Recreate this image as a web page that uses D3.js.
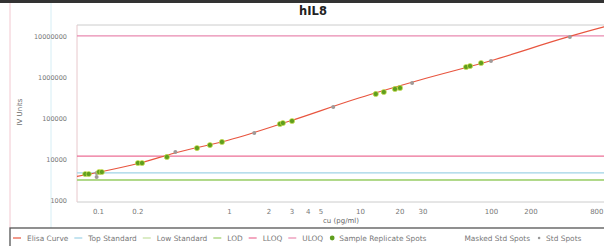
<!DOCTYPE html>
<html>
<head>
<meta charset="utf-8">
<script src="https://cdn.jsdelivr.net/npm/d3@7"></script>
<style>
  html, body { margin: 0; padding: 0; background: #fff; overflow: hidden; }
  svg { display: block; font-family: "DejaVu Sans", Verdana, sans-serif; }
</style>
</head>
<body>
<svg id="chart" width="604" height="246"></svg>
<script>
// Elisa curve (conc, signal)
const curveConc = [0.0692, 0.1036, 0.209, 0.387, 1, 2.92, 9.8, 28.7, 98, 387, 729, 1000];
const curveSignal = [3745, 4820, 7980, 14000, 29000, 84500, 307000, 845000, 2450000, 9460000, 16600000, 21500000];

// sample replicate spots (green)
const sampleConc = [0.080, 0.085, 0.102, 0.107, 0.202, 0.217, 0.336, 0.570, 0.716, 0.884, 2.45, 2.58, 3.03, 13.2, 15.2, 18.5, 20.2, 64.5, 69.2, 84];
const sampleSignal = [4300, 4300, 4820, 4820, 7980, 7980, 11200, 18500, 21900, 26000, 71400, 75500, 84500, 385000, 430000, 510000, 540000, 1750000, 1850000, 2190000];

// standard spots (gray)
const stdConc = [0.0977, 0.0977, 0.39, 1.56, 6.25, 25, 100, 400];
const stdSignal = [4560, 3640, 14800, 43000, 185000, 714000, 2460000, 9460000];

// horizontal reference lines
const refNames = ["Top Standard", "Low Standard", "LOD", "LLOQ", "ULOQ"];
const refValues = [4570, 3150, 3050, 11800, 10000000];
const refColors = ["#9fd3e6", "#c4e0a0", "#9ccf6c", "#ec6f96", "#e98ab0"];

const xTicks = [0.1, 0.2, 1, 2, 3, 4, 5, 10, 20, 30, 100, 200, 800];
const yTicks = [1000, 10000, 100000, 1000000, 10000000];

const legendNames = ["Elisa Curve", "Top Standard", "Low Standard", "LOD", "LLOQ", "ULOQ", "Sample Replicate Spots", "Masked Std Spots", "Std Spots"];
const legendKinds = ["line", "line", "line", "line", "line", "line", "dot", "none", "small"];
const legendColors = ["#e8553f", "#9fd3e6", "#c4e0a0", "#9ccf6c", "#ec6f96", "#e98ab0", "#5f9e1e", "#999", "#999"];

const svg = d3.select("#chart");
const margin = { left: 77, top: 25, right: 622, bottom: 202 };

const x = d3.scaleLog().domain([0.0692, 1000]).range([margin.left, margin.right]);
const y = d3.scaleLog().domain([894, 18500000]).range([margin.bottom, margin.top]);

// photo frame bits
svg.append("rect").attr("x", 0).attr("y", 0).attr("width", 604).attr("height", 3).attr("fill", "#333");
svg.append("line").attr("x1", 10).attr("x2", 10).attr("y1", 3).attr("y2", 228)
  .attr("stroke", "#f2c8d0").attr("stroke-width", 1);
svg.append("line").attr("x1", 51).attr("x2", 51).attr("y1", 3).attr("y2", 228)
  .attr("stroke", "#d6eef5").attr("stroke-width", 1);

// title
svg.append("text").attr("x", 313).attr("y", 15).attr("text-anchor", "middle")
  .attr("font-size", 11.5).attr("font-weight", "bold").attr("fill", "#222").text("hIL8");

// plot frame
svg.append("line").attr("x1", margin.left).attr("x2", 604).attr("y1", margin.top).attr("y2", margin.top)
  .attr("stroke", "#ccc");
svg.append("line").attr("x1", margin.left).attr("x2", 604).attr("y1", margin.bottom).attr("y2", margin.bottom)
  .attr("stroke", "#ccc");
svg.append("line").attr("x1", margin.left).attr("x2", margin.left).attr("y1", margin.top).attr("y2", margin.bottom)
  .attr("stroke", "#e8c8cc");

// axes (labels only)
const yAxis = svg.append("g").attr("transform", `translate(${margin.left - 7},0)`)
  .call(d3.axisLeft(y).tickValues(yTicks).tickFormat(d3.format("d")).tickSize(0));
yAxis.select(".domain").remove();
yAxis.selectAll("text").attr("font-size", 6.5).attr("fill", "#777").attr("font-family", "DejaVu Sans, sans-serif");

const xAxis = svg.append("g").attr("transform", `translate(0,${margin.bottom + 4})`)
  .call(d3.axisBottom(x).tickValues(xTicks).tickFormat(d => String(d)).tickSize(0));
xAxis.select(".domain").remove();
xAxis.selectAll("text").attr("font-size", 7).attr("fill", "#777").attr("font-family", "DejaVu Sans, sans-serif");
// last label sits at the picture's right edge, keep it inside
xAxis.selectAll(".tick").filter(d => x(d) > 595).select("text")
  .attr("text-anchor", "end").attr("x", d => 603 - x(d));

svg.append("text").attr("x", 341).attr("y", 223).attr("text-anchor", "middle")
  .attr("font-size", 7).attr("fill", "#666").text("cu (pg/ml)");
svg.append("text").attr("transform", "translate(22,112) rotate(-90)").attr("text-anchor", "middle")
  .attr("font-size", 7).attr("fill", "#666").text("IV Units");

// reference lines
svg.append("g").selectAll("line").data(refValues).join("line")
  .attr("x1", margin.left).attr("x2", 604)
  .attr("y1", d => y(d)).attr("y2", d => y(d))
  .attr("stroke", (d, i) => refColors[i]).attr("stroke-width", 1.2);

// elisa curve
const curvePts = curveConc.map((c, i) => [c, curveSignal[i]]);
svg.append("path").datum(curvePts)
  .attr("fill", "none").attr("stroke", "#e8553f").attr("stroke-width", 1.2)
  .attr("d", d3.line().x(d => x(d[0])).y(d => y(d[1])).curve(d3.curveMonotoneX));

// std spots
svg.append("g").selectAll("circle").data(stdConc).join("circle")
  .attr("cx", d => x(d)).attr("cy", (d, i) => y(stdSignal[i]))
  .attr("r", 2).attr("fill", "#a09a98");

// sample replicate spots
svg.append("g").selectAll("circle").data(sampleConc).join("circle")
  .attr("cx", d => x(d)).attr("cy", (d, i) => y(sampleSignal[i]))
  .attr("r", 2.6).attr("fill", "#5f9e1e").attr("stroke", "#d8e850").attr("stroke-width", 0.6);

// legend
svg.append("rect").attr("x", 10).attr("y", 228).attr("width", 600).attr("height", 30)
  .attr("fill", "#fff").attr("stroke", "#555").attr("stroke-width", 1.3);

let lx = 13;
legendNames.forEach((name, i) => {
  const g = svg.append("g");
  const kind = legendKinds[i];
  let tx = lx + 14;
  if (kind === "line") {
    g.append("line").attr("x1", lx).attr("x2", lx + 8).attr("y1", 238).attr("y2", 238)
      .attr("stroke", legendColors[i]).attr("stroke-width", 1.2);
  } else if (kind === "dot") {
    g.append("circle").attr("cx", lx + 3).attr("cy", 238).attr("r", 2.4).attr("fill", legendColors[i]);
    tx = lx + 10;
  } else if (kind === "small") {
    g.append("circle").attr("cx", lx + 3).attr("cy", 238).attr("r", 1.3).attr("fill", legendColors[i]);
    tx = lx + 10;
  } else {
    tx = lx + 10;
  }
  const t = g.append("text").attr("x", tx).attr("y", 240.5).attr("font-size", 7.4).attr("fill", "#777").text(name);
  const w = t.node().getComputedTextLength();
  lx = tx + w + (kind === "dot" ? 28 : 6);
});
</script>
</body>
</html>
